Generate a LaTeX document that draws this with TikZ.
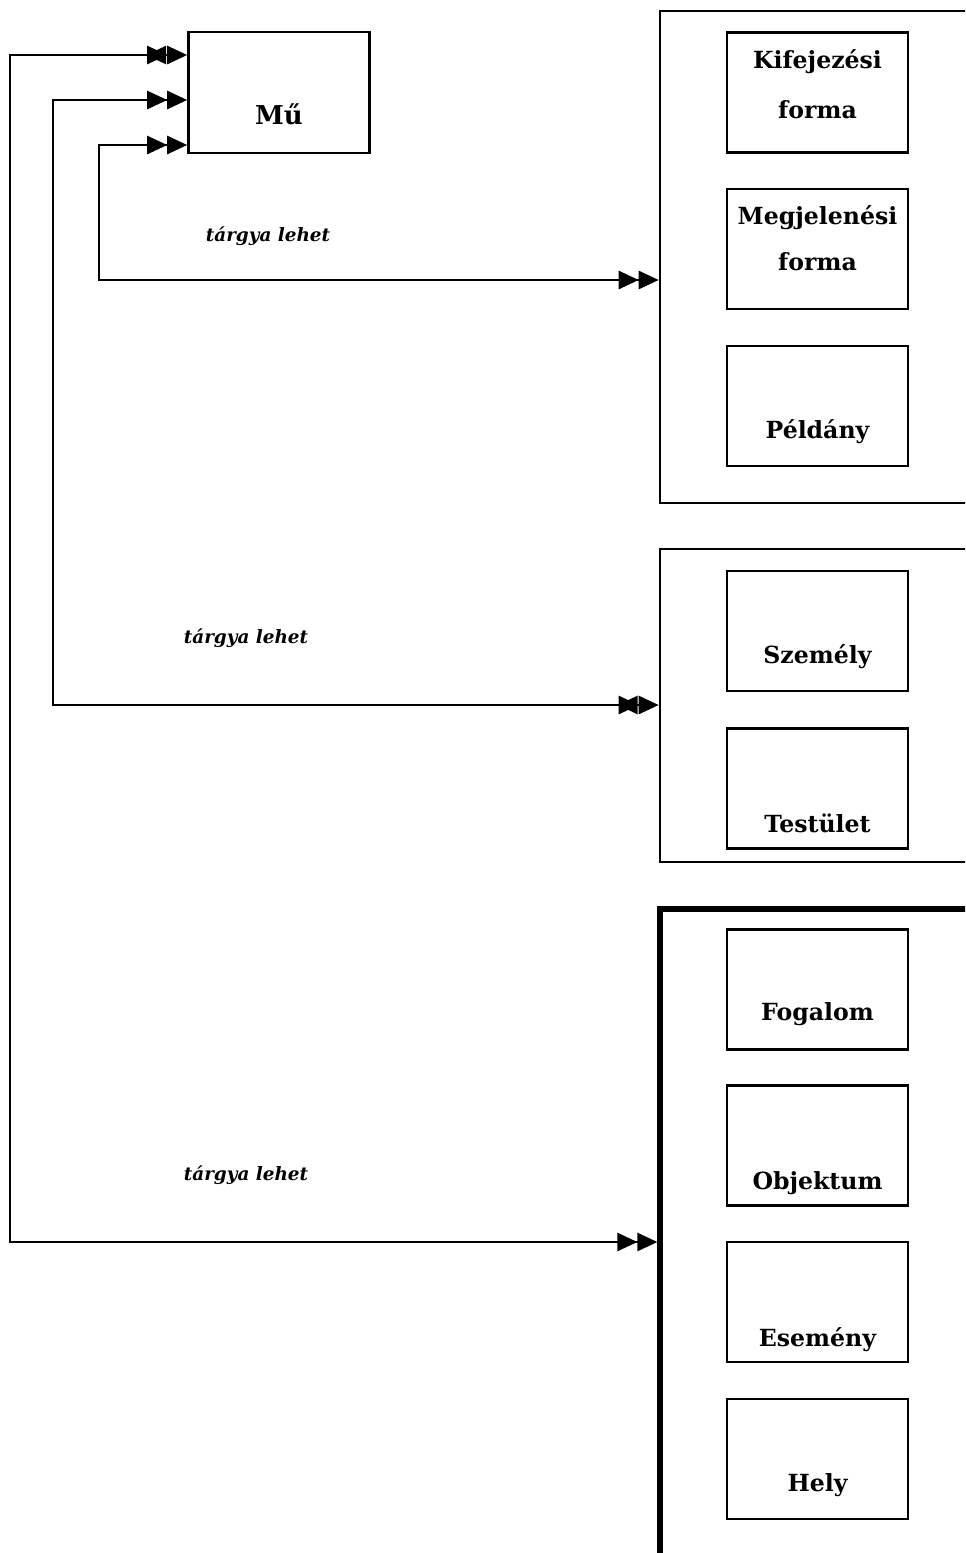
\documentclass[tikz,border=0pt]{standalone}
\usepackage{fontspec}
\setmainfont{DejaVu Serif}
\usetikzlibrary{arrows.meta}

\begin{document}
\begin{tikzpicture}[x=0.5pt,y=-0.5pt,
    elem/.style={draw, line width=1.3pt, minimum width=90.5pt, minimum height=60pt,
      inner sep=0pt, align=center, font=\bfseries\fontsize{11.8}{14}\selectfont},
    lowtext/.style={text height=#1, text depth=0pt},
    hightext/.style={text depth=#1},
    group/.style={draw, line width=1.3pt, minimum width=165pt, inner sep=0pt},
    rel/.style={font=\bfseries\itshape\fontsize{9.2}{11}\selectfont},
    dd/.style={line width=1.3pt,
      {Triangle[length=10pt,width=9pt] Triangle[length=10pt,width=9pt]}-{Triangle[length=10pt,width=9pt] Triangle[length=10pt,width=9pt]}},
    bd/.style={line width=1.3pt,
      {Triangle[length=10pt,width=9pt] Triangle[length=10pt,width=9pt]}-{Triangle[reversed,length=10pt,width=9pt,sep=-9.5pt] Triangle[length=10pt,width=9pt] Triangle[length=10pt,width=9pt]}}]
  \useasboundingbox (0,0) rectangle (965,1553);
  \clip (0,0) rectangle (965,1553);

  % the work
  \node[elem, lowtext=32pt, minimum height=60.5pt, font=\bfseries\fontsize{13}{15}\selectfont] (mu) at (279,92.5) {Mű};

  % first group
  \node[group, minimum height=246pt] (grpA) at (825,257) {};
  \node[elem, hightext=8pt] (kif) at (817.5,92.5) {Kifejezési\\[11pt]forma};
  \node[elem, hightext=11pt] (megj) at (817.5,249) {Megjelenési\\[9pt]forma};
  \node[elem, lowtext=32pt] (pld) at (817.5,406) {Példány};

  % second group
  \node[group, minimum height=156.5pt] (grpB) at (825,705.5) {};
  \node[elem, lowtext=32pt] (szem) at (817.5,631) {Személy};
  \node[elem, lowtext=44pt] (test) at (817.5,788.5) {Testület};

  % third group
  \node[group, line width=2.6pt, minimum height=330.5pt] (grpC) at (825,1239.5) {};
  \node[elem, lowtext=31pt] (fog) at (817.5,989.5) {Fogalom};
  \node[elem, lowtext=44pt] (obj) at (817.5,1145.5) {Objektum};
  \node[elem, lowtext=44pt] (esem) at (817.5,1302) {Esemény};
  \node[elem, lowtext=32pt] (hely) at (817.5,1459) {Hely};

  % relations
  \node[rel] (relA) at (268,236) {tárgya lehet};
  \node[rel] (relB) at (246,638) {tárgya lehet};
  \node[rel] (relC) at (246,1175) {tárgya lehet};

  \draw[dd] (mu.west |- 0,145) -- (99,145) |- (grpA.west |- 0,280);
  \draw[bd] (mu.west |- 0,100) -- (53,100) |- (grpB.west |- 0,705);
  \draw[bd] (grpC.west |- 0,1242) -| (10,55) -- (mu.west |- 0,55);
\end{tikzpicture}
\end{document}
